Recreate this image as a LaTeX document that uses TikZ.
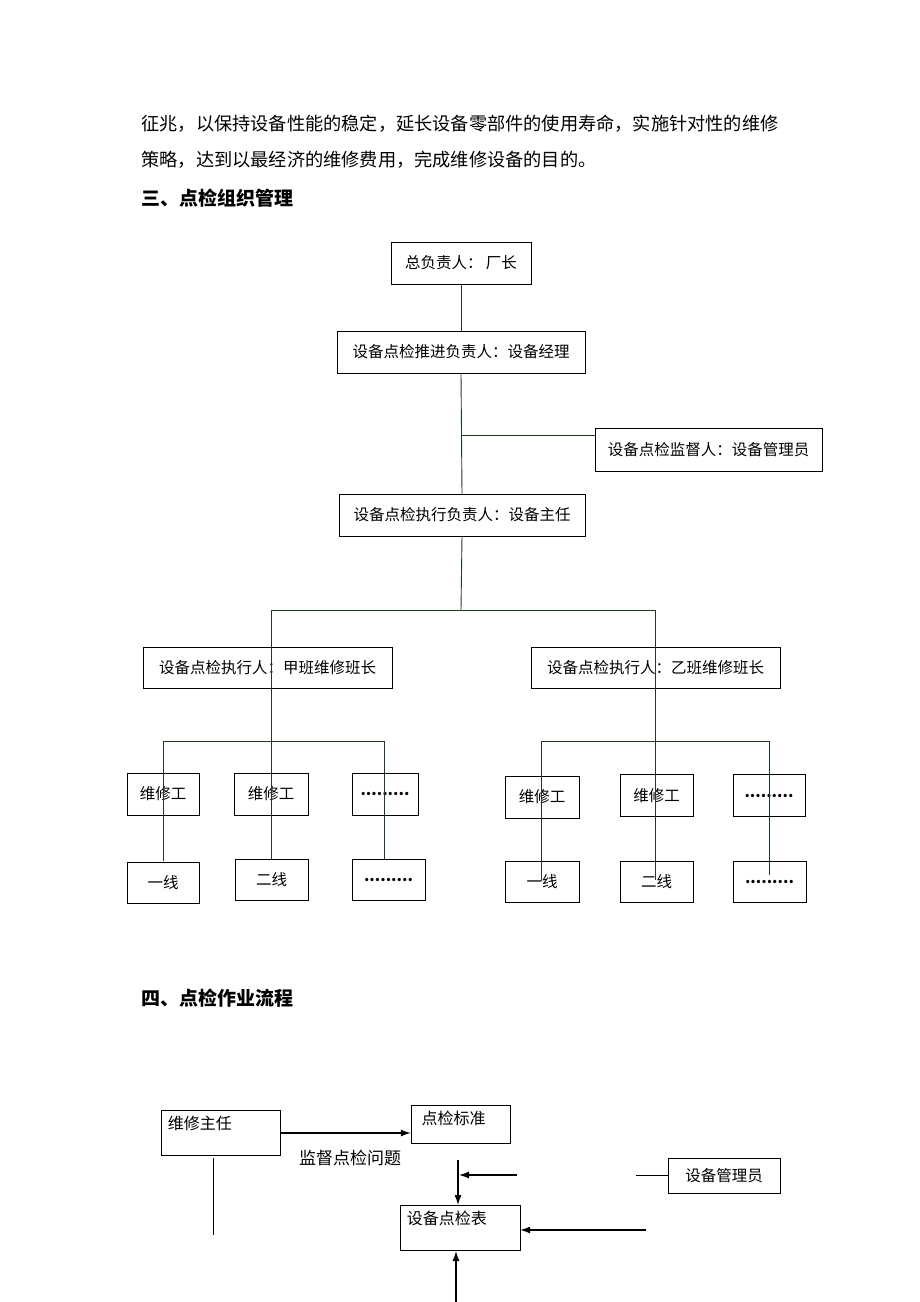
\documentclass[tikz,border=0pt]{standalone}
\usepackage{fontspec}
\setmainfont{Noto Sans CJK SC}
\usepackage{xcolor}
\usetikzlibrary{arrows.meta}
\definecolor{linkgreen}{RGB}{30,60,30}

\begin{document}
\begin{tikzpicture}[x=1pt,y=-1pt,
    box/.style={draw,rectangle,inner sep=0pt,font=\fontsize{15.5}{18}\selectfont},
    topbox/.style={draw,rectangle,inner sep=0pt},
    link/.style={linkgreen,line width=0.9pt},
    flow/.style={black,line width=1.2pt,-{Latex[length=10pt,width=7pt]}}]
				\useasboundingbox (0,0) rectangle (920,1302);
				% text
				\node[anchor=west,font=\fontsize{18.2}{20}\selectfont] (p1) at (138,124){征兆，以保持设备性能的稳定，延长设备零部件的使用寿命，实施针对性的维修};
				\node[anchor=west,font=\fontsize{18.2}{20}\selectfont] (p2) at (138,160){策略，达到以最经济的维修费用，完成维修设备的目的。};
				\node[anchor=west,font=\fontsize{19}{20}\selectfont\bfseries] (h3) at (138,198){三、点检组织管理};
				\node[anchor=west,font=\fontsize{19}{20}\selectfont\bfseries] (h4) at (138,998){四、点检作业流程};
				
				% org chart
				\node[box,minimum width=140,minimum height=42] (chief) at (461,263){总负责人：\ 厂长};
				\node[box,minimum width=248,minimum height=42] (mgr) at (461,352){设备点检推进负责人：设备经理};
				\node[box,minimum width=227,minimum height=43] (sup) at (708.5,449.5){设备点检监督人：设备管理员};
				\node[box,minimum width=246,minimum height=42] (dir) at (462,515){设备点检执行负责人：设备主任};
				\node[box,minimum width=249,minimum height=41] (la) at (267.5,667.5){设备点检执行人：甲班维修班长};
				\node[box,minimum width=249,minimum height=41] (lb) at (655.5,667.5){设备点检执行人：乙班维修班长};
				\foreach \n/\x/\y/\w/\t in
				{a1/163/794/72/维修工, a2/271/794/74/维修工, a3/385/794/66/\textbf{.........},
				 b1/542/797/74/维修工, b2/656.5/795.5/73/维修工, b3/769/795.5/72/\textbf{.........}}{
					\node[box,minimum width=\w,minimum height=42] (\n) at (\x,\y){\t};
				}
				\foreach \n/\x/\y/\w/\t in
				{c1/163/882.5/72/一线, c2/271.5/879.5/73/二线, c3/388.5/879.5/73/\textbf{.........},
				 d1/542/882/74/一线, d2/656.5/882/73/二线, d3/769.5/882/73/\textbf{.........}}{
					\node[box,minimum width=\w,minimum height=41] (\n) at (\x,\y){\t};
				}
				
				\coordinate (j1) at (461,435);
				\coordinate (j2) at (461,610);
				\draw[link] (chief.south)--(mgr.north);
				\draw[link] (mgr.south)--(dir.north);
				\draw[link] (j1)--(sup.west|-j1);
				\draw[link] (dir.south)--(j2);
				\draw[link] (271,610)--(655,610);
				\draw[link] (271,610)--(271,741);
				\draw[link] (655,610)--(655,741);
				\draw[link] (163,741)--(384,741);
				\draw[link] (541,741)--(769,741);
				\foreach \x/\y in {163/861, 271/859, 384/859, 541/881, 655/880, 769/875}{
					\draw[link] (\x,741)--(\x,\y);
				}
				
				% flow
				\node[topbox,minimum width=119,minimum height=45] (head) at (220.5,1132.5){};
				\node[anchor=north west,font=\fontsize{16}{18}\selectfont] (headt) at ([yshift=-3]head.north west){\ 维修主任};
				\node[topbox,minimum width=99,minimum height=38] (std) at (460.5,1124){};
				\node[anchor=north west,font=\fontsize{16}{18}\selectfont] (stdt) at ([yshift=-3]std.north west){\ \ 点检标准};
				\node[topbox,minimum width=120,minimum height=45] (form) at (460,1227.5){};
				\node[anchor=north west,font=\fontsize{16}{18}\selectfont] (formt) at ([yshift=-3]form.north west){\ 设备点检表};
				\node[box,minimum width=112,minimum height=35] (admin) at (724,1175.5){设备管理员};
				\node[font=\fontsize{17}{18}\selectfont] (ask) at (350,1158){监督点检问题};
				
				\coordinate (m1) at (636,1175.5);
				\draw[flow] (head.east|-0,1133)--(std.west|-0,1133);
				\draw[black,line width=1pt] (213,1158)--(213,1235);
				\draw[flow] (458,1160)--(458,1205);
				\draw[flow] (517,1175)--(459,1175);
				\draw[black,line width=1pt] (m1)--(admin.west);
				\draw[flow] (646,1230)--(form.east|-0,1230);
				\draw[flow] (456,1302)--(456,1251);
			\end{tikzpicture}
\end{document}
